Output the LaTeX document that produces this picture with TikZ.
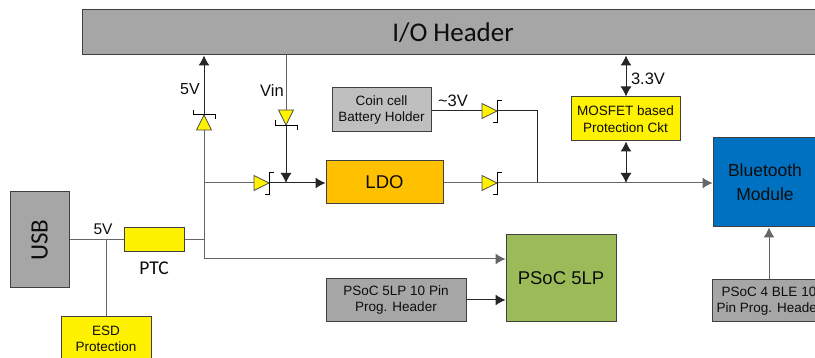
\documentclass[tikz,border=0pt]{standalone}
\usepackage{fontspec}
\setmainfont{Liberation Sans}
\newfontfamily\calib{Carlito}
\usetikzlibrary{arrows.meta}
\definecolor{txt}{HTML}{0D0D0D}
\definecolor{gline}{HTML}{666666}
\tikzset{
 box/.style={draw=black!75,line width=1pt,inner sep=0pt,align=center,text=txt},
 small/.style={font=\fontsize{13.5}{16.5}\selectfont},
 lab/.style={inner sep=0pt,text=txt},
 wire/.style={draw=gline,line width=1pt},
 wireb/.style={draw=black!85,line width=1pt},
 tip/.style={-{Latex[length=10pt,width=11pt]}},
 dtip/.style={{Latex[length=10pt,width=11pt]}-{Latex[length=10pt,width=11pt]}},
 diode/.pic={
  \draw[black!70,line width=.7pt,fill=yellow] (0,-7.5)--(15,0)--(0,7.5)--cycle;
  \draw[black,line width=.9pt] (20,-11)--(15.5,-11)--(15.5,11)--(10.5,11);
 }
}
\begin{document}
\begin{tikzpicture}[x=1pt,y=-1pt]
\useasboundingbox (0,0) rectangle (815,358);
\clip (0,0) rectangle (815,358);
% coordinates
\coordinate (d1) at (204,130);
\coordinate (d2) at (286,110);
\coordinate (d3) at (254,183);
\coordinate (d4) at (482,183);
\coordinate (d5) at (482,111);
\coordinate (j1) at (204,240);
\coordinate (j2) at (204,259);
\coordinate (j3) at (204,183);
\coordinate (j4) at (286,183);
\coordinate (j5) at (537,183);
\coordinate (j6) at (537,111);
\coordinate (j7) at (106,240);
\coordinate (j8) at (626,183);
\coordinate (t1) at (204,55.5);
\coordinate (t2) at (286,55.5);
\coordinate (t3) at (626,55.5);
% boxes
\node[box,fill=black!35,minimum width=742pt,minimum height=45pt,font=\calib\fontsize{27}{27}\selectfont] (io) at (453,32.5) {I/O Header};
\node[box,fill=black!35,minimum width=59pt,minimum height=96pt] (usb) at (39.5,240) {\rotatebox{90}{\calib\fontsize{25}{25}\selectfont USB}};
\node[box,fill=yellow,minimum width=60pt,minimum height=24pt] (ptc) at (154,240) {};
\node[box,fill=yellow,minimum width=90pt,minimum height=44pt,font=\fontsize{13.5}{16}\selectfont] (esd) at (106,339) {ESD\\Protection};
\node[box,fill=black!25,minimum width=99pt,minimum height=44pt,small] (coin) at (381.5,110) {Coin cell\\Battery Holder};
\node[box,fill={rgb,255:red,255;green,192;blue,0},minimum width=117pt,minimum height=43pt,font=\fontsize{18.5}{18.5}\selectfont] (ldo) at (384.5,182.5) {LDO};
\node[box,fill=yellow,minimum width=109pt,minimum height=44pt,small] (mos) at (625.5,119) {MOSFET based\\Protection Ckt};
\node[box,fill={rgb,255:red,0;green,112;blue,192},minimum width=104pt,minimum height=89pt,font=\fontsize{17.5}{24}\selectfont] (bt) at (765,182.5) {Bluetooth\\Module};
\node[box,fill={rgb,255:red,155;green,187;blue,89},minimum width=110pt,minimum height=87pt,font=\fontsize{18.5}{18.5}\selectfont] (psoc) at (561,278.5) {PSoC 5LP};
\node[box,fill=black!35,minimum width=140pt,minimum height=43pt,small] (h5) at (396,300) {PSoC 5LP 10 Pin\\Prog. Header};
\node[box,fill=black!35,minimum width=114pt,minimum height=42pt,font=\fontsize{13.5}{16}\selectfont] (h4) at (769,301) {PSoC 4 BLE 10\\Pin Prog. Header};
% connectors
\draw[wire] (usb.east|-j1) -- (ptc.west);
\draw[wire] (j7) -- (esd.north);
\draw[wire] (ptc.east) -- (j1);
\draw[wire] (j2) -- (d1);
\draw[wireb,tip] (d1) -- (t1);
\draw[wire,tip] (j2) -- (psoc.west|-j2);
\draw[wire] (j3) -- (d3);
\draw[wireb,tip] (d3) -- (ldo.west|-d3);
\draw[wire] (t2) -- (d2);
\draw[wireb,tip] (d2) -- (j4);
\draw[wire] (ldo.east|-d4) -- (d4);
\draw[wireb] (coin.east|-d5) -- (j6) -- (j5);
\draw[wire,tip] (d4) -- (bt.west|-d4);
\draw[wireb,dtip] (t3) -- (mos.north-|t3);
\draw[wireb,dtip] (mos.south-|j8) -- (j8);
\draw[wireb,tip] (h5.east) -- (psoc.west|-h5);
\draw[wire,tip] (h4.north) -- (bt.south-|h4);
% diodes
\pic[rotate=90] at (d1) {diode};
\pic[rotate=-90] at (d2) {diode};
\pic at (d3) {diode};
\pic at (d4) {diode};
\pic at (d5) {diode};
% labels
\node[lab,font=\fontsize{16}{16}\selectfont] (l1) at (190,89) {5V};
\node[lab,font=\fontsize{16.5}{16.5}\selectfont] (l2) at (272,91) {Vin};
\node[lab,font=\fontsize{16.5}{16.5}\selectfont] (l3) at (453,101) {\textasciitilde 3V};
\node[lab,font=\fontsize{16.5}{16.5}\selectfont] (l4) at (648,78.5) {3.3V};
\node[lab,font=\fontsize{15.5}{15.5}\selectfont] (l5) at (103,229.5) {5V};
\node[lab,font=\calib\fontsize{19.5}{19.5}\selectfont] (l6) at (154,268) {PTC};
\end{tikzpicture}
\end{document}
